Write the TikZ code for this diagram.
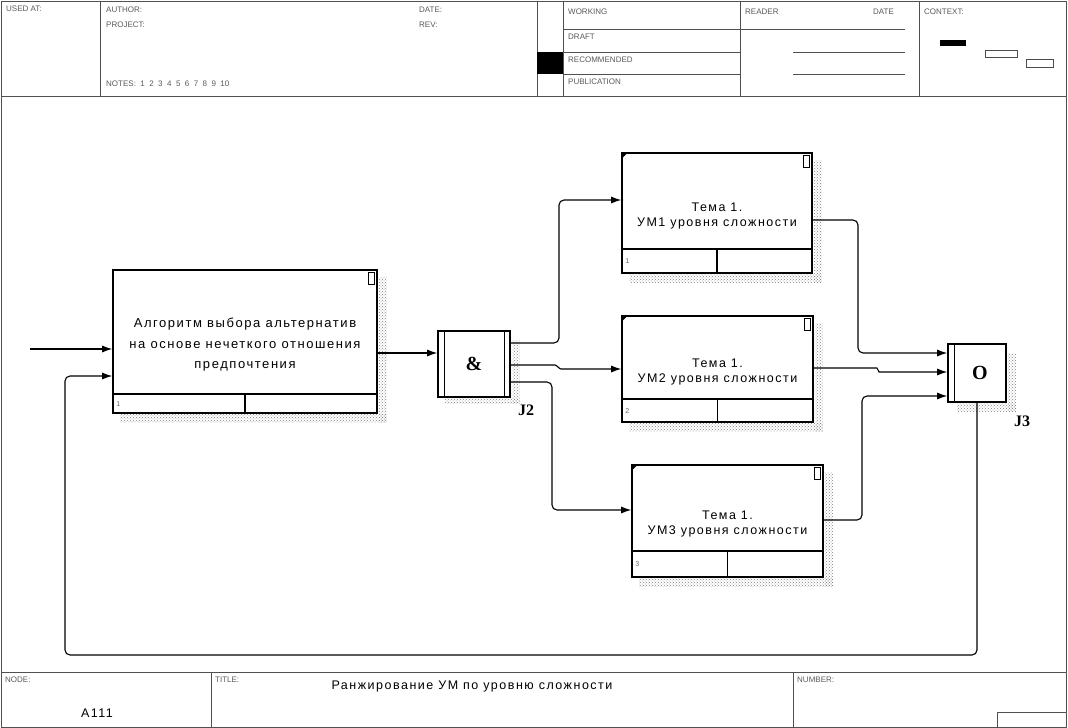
\documentclass[tikz,border=0pt]{standalone}
\usepackage{fontspec}
\setmainfont{Liberation Sans}
\newfontfamily\boxfont[LetterSpace=12]{Liberation Sans}
\newfontfamily\juncfont{Liberation Serif}
\usetikzlibrary{arrows.meta,positioning,patterns,calc}
\definecolor{framegray}{RGB}{80,80,80}

\begin{document}
\begin{tikzpicture}[x=1pt,y=-1pt,
    every node/.style={font=\boxfont\fontsize{12.5}{15}\selectfont},
    uob/.style={draw,line width=1.6pt,inner sep=0pt},
    junc/.style={draw,line width=1.6pt,inner sep=0pt,font=\juncfont\bfseries\fontsize{20}{20}\selectfont},
    jlabel/.style={font=\juncfont\bfseries\fontsize{16}{16}\selectfont},
    flow/.style={line width=1.1pt,rounded corners=5pt,-{Latex[length=10pt,width=7pt]}},
    shadow/.style={pattern=crosshatch dots,pattern color=black!50},
    rule/.style={framegray,line width=0.7pt},
    hdr/.style={font=\fontsize{8}{9}\selectfont,text=black!65,anchor=north west,inner sep=1pt},
    tag/.style={font=\fontsize{7}{7}\selectfont,text=black!60,inner sep=1pt}]
  \useasboundingbox (0,0) rectangle (1068,728);

  % frame, header and footer
  \draw[rule] (1.5,1.5) rectangle (1066.5,727);
  \draw[rule] (1.5,96) -- (1066.5,96);
  \foreach \x in {100,537,563,740,919}
    \draw[rule] (\x,1.5) -- (\x,96);
  \foreach \y in {29,52,74}
    \draw[rule] (563,\y) -- (740,\y);
  \draw[rule] (740,29) -- (905,29);
  \foreach \y in {52,74}
    \draw[rule] (793,\y) -- (905,\y);
  \fill[black] (537,52) rectangle (563,74);
  \node[hdr] (usedat) at (5,5) {USED AT:};
  \node[hdr] (author) at (105,6) {AUTHOR:};
  \node[hdr] (project) at (105,21) {PROJECT:};
  \node[hdr] (notes) at (105,80) {NOTES:\ \ 1\ \ 2\ \ 3\ \ 4\ \ 5\ \ 6\ \ 7\ \ 8\ \ 9\ \ 10};
  \node[hdr] (date) at (418,6) {DATE:};
  \node[hdr] (rev) at (418,21) {REV:};
  \foreach \t/\y in {WORKING/8,DRAFT/33,RECOMMENDED/56,PUBLICATION/78}
    \node[hdr] (st\t) at (567,\y) {\t};
  \node[hdr] (reader) at (744,8) {READER};
  \node[hdr] (rdate) at (872,8) {DATE};
  \node[hdr] (context) at (923,8) {CONTEXT:};
  \fill[black] (940,40) rectangle (966,46);
  \draw[black!70,line width=0.8pt] (985,50) rectangle (1017,57);
  \draw[black!70,line width=0.8pt] (1026,59) rectangle (1053,67);

  \draw[rule] (1.5,672) -- (1066.5,672);
  \foreach \x in {211,793}
    \draw[rule] (\x,672) -- (\x,727);
  \draw[rule] (997,712) rectangle (1066.5,727);
  \node[hdr] (node) at (4,676) {NODE:};
  \node[hdr] (title) at (214,676) {TITLE:};
  \node[hdr] (number) at (796,676) {NUMBER:};
  \node (nodeno) at (97,713) {A111};
  \node (titletxt) at (472,686) {Ранжирование УМ по уровню сложности};

  % unit of behaviour: algorithm
  \node[uob,minimum width=264pt,minimum height=143pt] (alg) at (245,341.5) {};
  \fill[shadow] ($(alg.north east)+(1,8)$) rectangle ($(alg.south east)+(9,9)$);
  \fill[shadow] ($(alg.south west)+(8,1)$) rectangle ($(alg.south east)+(9,9)$);
  \draw[line width=1.6pt] ($(alg.south west)+(0,-20)$) -- ($(alg.south east)+(0,-20)$);
  \draw[line width=1.6pt] (alg.south) -- ++(0,-20);
  \draw[line width=0.9pt] ($(alg.north east)+(-9,3)$) rectangle ($(alg.north east)+(-3,15)$);
  \node[align=center,font=\boxfont\fontsize{13}{20.5}\selectfont] (algtxt) at (245,345)
    {Алгоритм выбора альтернатив\\на основе нечеткого отношения\\предпочтения};
  \node[tag] (algno) at ($(alg.south west)+(6,-10)$) {1};

  % units of behaviour: topics
  \foreach \n/\cx/\cy/\w/\h/\s/\k in {t1/717/213/190/120/25/1,t2/717.5/369/191/106/24/2,t3/727.5/521/191/112/27/3}{
    \node[uob,minimum width=\w pt,minimum height=\h pt] (\n) at (\cx,\cy) {};
    \fill[shadow] ($(\n.north east)+(1,8)$) rectangle ($(\n.south east)+(9,9)$);
    \fill[shadow] ($(\n.south west)+(8,1)$) rectangle ($(\n.south east)+(9,9)$);
    \draw[line width=1.6pt] ($(\n.south west)+(0,-\s)$) -- ($(\n.south east)+(0,-\s)$);
    \draw[line width=1.6pt] (\n.south) -- ++(0,-\s);
    \fill ($(\n.north west)+(0,0)$) -- ++(7,0) -- ++(-7,7) -- cycle;
    \draw[line width=0.9pt] ($(\n.north east)+(-9,3)$) rectangle ($(\n.north east)+(-3,15)$);
    \node[align=center] (\n txt) at ($(\n.center)+(0,3)$) {Тема 1.\\УМ\k\ уровня сложности};
    \node[tag] (\n no) at ($(\n.south west)+(6,-\s/2)$) {\k};
  }

  % junctions
  \node[junc,minimum width=72pt,minimum height=66pt] (j2) at (474,364) {\&};
  \fill[shadow] ($(j2.north east)+(1,10)$) rectangle ($(j2.south east)+(9,6)$);
  \fill[shadow] ($(j2.south west)+(8,1)$) rectangle ($(j2.south east)+(9,6)$);
  \draw[line width=1.2pt] ($(j2.north west)+(7,0)$) -- ($(j2.south west)+(7,0)$);
  \draw[line width=1.2pt] ($(j2.north east)+(-6,0)$) -- ($(j2.south east)+(-6,0)$);
  \node[jlabel] (j2lbl) at (526,410) {J2};

  \node[junc,minimum width=58pt,minimum height=58pt] (j3) at (977,373) {\hspace{6pt}O};
  \fill[shadow] ($(j3.north east)+(1,10)$) rectangle ($(j3.south east)+(9,9)$);
  \fill[shadow] ($(j3.south west)+(10,1)$) rectangle ($(j3.south east)+(9,9)$);
  \draw[line width=1.2pt] ($(j3.north west)+(7,0)$) -- ($(j3.south west)+(7,0)$);
  \node[jlabel] (j3lbl) at (1022,421) {J3};

  % connectors
  \coordinate (in) at (30,349);
  \coordinate (fb) at (65,655);
  \coordinate (up) at (559,343);
  \coordinate (down) at (552,382);
  \coordinate (r1) at (858,220);
  \coordinate (r3) at (862,520);
  \draw[flow] (in) -- (alg.west |- in);
  \draw[flow] (j3.south) |- (fb) |- (alg.west |- 0,376);
  \draw[flow] (alg.east |- 0,353) -- (j2.west |- 0,353);
  \draw[flow] (j2.east |- up) -- (up) |- (t1.west |- 0,200);
  \draw[flow] (j2.east |- 0,365) -- (550,365) to[out=0,in=180] (566,369) -- (t2.west |- 0,369);
  \draw[flow] (j2.east |- down) -- (down) |- (t3.west |- 0,510);
  \draw[flow] (t1.east |- r1) -- (r1) |- (j3.west |- 0,353);
  \draw[flow] (t2.east |- 0,368) -- (872,368) to[out=0,in=180] (884,372) -- (j3.west |- 0,372);
  \draw[flow] (t3.east |- r3) -- (r3) |- (j3.west |- 0,396);
\end{tikzpicture}
\end{document}
